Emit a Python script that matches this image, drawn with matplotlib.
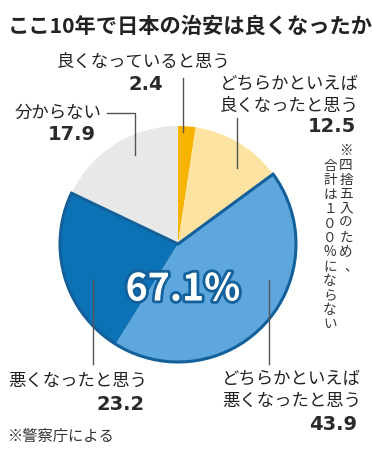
import matplotlib
matplotlib.use("Agg")
import matplotlib.pyplot as plt
from matplotlib.patches import Wedge
import matplotlib.patheffects as pe
import numpy as np

plt.rcParams['font.family'] = ['Noto Sans CJK JP', 'DejaVu Sans']

title = "ここ10年で日本の治安は良くなったか"
categories = ["良くなっていると思う", "どちらかといえば良くなったと思う",
              "どちらかといえば悪くなったと思う", "悪くなったと思う", "分からない"]
values = [2.4, 12.5, 43.9, 23.2, 17.9]
colors = ["#F6B400", "#FDE3A2", "#5DA6DE", "#0B72B6", "#E8E8E8"]
total_label = "67.1%"
note_vertical = ["※四捨五入のため、", "合計は１００%にならない"]
source = "※警察庁による"

W, H = 372, 450
fig = plt.figure(figsize=(W / 100, H / 100), dpi=100)
ax = fig.add_axes([0, 0, 1, 1])

def Y(y):
    return H - y

cx, cy, r = 178, 244, 118
wedges, _ = ax.pie(values, colors=colors, startangle=90, counterclock=False,
                   center=(cx, Y(cy)), radius=r, frame=True,
                   wedgeprops=dict(linewidth=0))
# outline around the combined blue region
theta1 = wedges[3].theta1
theta2 = wedges[2].theta2
ax.add_patch(Wedge((cx, Y(cy)), r, theta1, theta2, facecolor='none',
                   edgecolor='#13609A', linewidth=2.2, joinstyle='miter'))

ax.set_xlim(0, W)
ax.set_ylim(0, H)
ax.set_aspect('equal')
ax.axis('off')

txt = dict(color='#222222')
ax.text(8, Y(26), title, fontsize=15.3, fontweight='bold', va='center', ha='left', **txt)

lab = 12.5
num = 14
numfont = dict(family='DejaVu Sans', fontsize=num, fontweight='bold', color='#2a2a2a')
lc = '#555555'
lw = 1.0

# 良くなっていると思う
ax.text(57, Y(62), categories[0], fontsize=lab, va='center', ha='left', **txt)
ax.text(163, Y(84), f"{values[0]}", va='center', ha='right', **numfont)
ax.plot([183, 183], [Y(78), Y(132)], color=lc, lw=lw)

# どちらかといえば良くなったと思う
ax.text(359, Y(84), "どちらかといえば", fontsize=lab, va='center', ha='right', **txt)
ax.text(359, Y(106), "良くなったと思う", fontsize=lab, va='center', ha='right', **txt)
ax.text(356, Y(127), f"{values[1]}", va='center', ha='right', **numfont)
ax.plot([237, 237], [Y(118), Y(168)], color=lc, lw=lw)

# 分からない
ax.text(101, Y(113), categories[4], fontsize=lab, va='center', ha='right', **txt)
ax.text(96, Y(134), f"{values[4]}", va='center', ha='right', **numfont)
ax.plot([107, 135, 135], [Y(113), Y(113), Y(155)], color=lc, lw=lw)

# 悪くなったと思う
ax.text(8, Y(381), categories[3], fontsize=lab, va='center', ha='left', **txt)
ax.text(145, Y(404), f"{values[3]}", va='center', ha='right', **numfont)
ax.plot([93, 93], [Y(280), Y(364)], color=lc, lw=lw)

# どちらかといえば悪くなったと思う
ax.text(361, Y(379), "どちらかといえば", fontsize=lab, va='center', ha='right', **txt)
ax.text(361, Y(401), "悪くなったと思う", fontsize=lab, va='center', ha='right', **txt)
ax.text(357, Y(424), f"{values[2]}", va='center', ha='right', **numfont)
ax.plot([269, 269], [Y(280), Y(364)], color=lc, lw=lw)

# big total
ax.text(183, Y(289), total_label, fontsize=27, fontweight='bold', color='white',
        va='center', ha='center',
        path_effects=[pe.withStroke(linewidth=4, foreground='#13609A')])

# vertical note
step = 14.4
col_x = [346, 330]
col_y0 = [151, 166]
for col, (x, y0) in enumerate(zip(col_x, col_y0)):
    for i, ch in enumerate(note_vertical[col]):
        dx, dy = 0, 0
        if ch in "、。":
            dx, dy = 5, 0
        ax.text(x + dx, Y(y0 + i * step + dy), ch, fontsize=9.8, va='center',
                ha='center', color='#333333')

ax.text(8, Y(437), source, fontsize=11, va='center', ha='left', color='#333333')

fig.savefig("out.png", dpi=100)
